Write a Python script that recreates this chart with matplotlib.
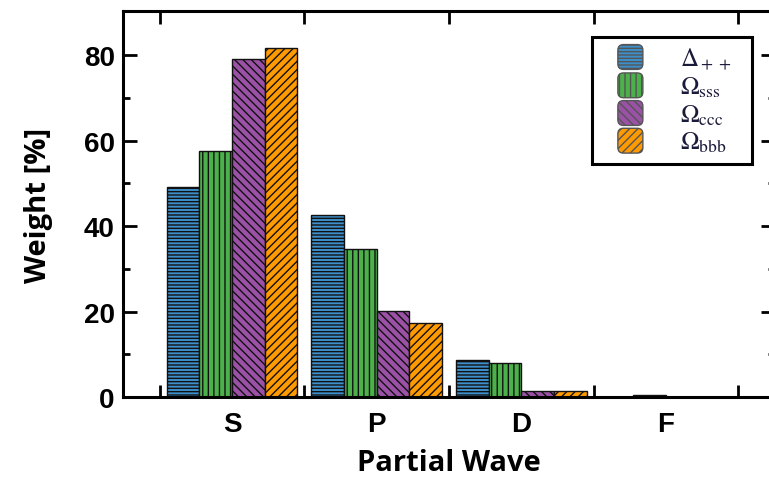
import matplotlib
matplotlib.use("Agg")
import matplotlib.pyplot as plt
import numpy as np
from matplotlib.patches import FancyBboxPatch, Rectangle
from matplotlib.legend_handler import HandlerPatch

categories = ["S", "P", "D", "F"]
series_names = [r"$\Delta_{\rm ++}$", r"$\Omega_{\rm sss}$", r"$\Omega_{\rm ccc}$", r"$\Omega_{\rm bbb}$"]
delta_pp = [49.2, 42.5, 8.7, 0.0]
omega_sss = [57.6, 34.6, 7.9, 0.4]
omega_ccc = [79.1, 20.2, 1.5, 0.0]
omega_bbb = [81.6, 17.3, 1.4, 0.0]
values = [delta_pp, omega_sss, omega_ccc, omega_bbb]
colors = ["#3d8fcb", "#4cb14a", "#9b51a6", "#ff9a00"]
hatches = ["-----", "|||", "\\\\\\\\", "////"]

plt.rcParams["mathtext.fontset"] = "stix"
plt.rcParams["hatch.linewidth"] = 1.0

fig = plt.figure(figsize=(7.69, 4.81), dpi=100)
ax = fig.add_axes([123/769, 83/481, 652/769, 386/481])

x = np.arange(len(categories))
width = 0.226
offsets = [-1.5, -0.5, 0.5, 1.5]
handles = []
for vals, c, h, off, name in zip(values, colors, hatches, offsets, series_names):
    b = ax.bar(x + off*width, vals, width, color=c, edgecolor="#111111",
               linewidth=1.0, hatch=h, label=name, zorder=2)
    handles.append(b)

ax.set_xlim(-0.755, 3.755)
ax.set_ylim(0, 90.3)

ax.set_xticks(x)
ax.set_xticklabels(categories)
ax.set_xticks(np.arange(-0.5, 4.0, 1.0), minor=True)
ax.tick_params(axis="x", which="major", length=0, pad=10)
ax.tick_params(axis="x", which="minor", direction="in", length=9, width=2,
               top=True, bottom=True)
ax.set_yticks([0, 20, 40, 60, 80])
ax.set_yticks([10, 30, 50, 70], minor=True)
ax.tick_params(axis="y", which="major", direction="in", length=10, width=2,
               left=True, right=True, pad=6)
ax.tick_params(axis="y", which="minor", direction="in", length=5, width=2,
               left=True, right=True)

for lab in ax.get_xticklabels() + ax.get_yticklabels():
    lab.set_fontfamily("Liberation Sans")
    lab.set_fontweight("bold")
    lab.set_fontsize(20)

for s in ax.spines.values():
    s.set_linewidth(2.2)

ax.set_xlabel("Partial Wave", fontfamily="Open Sans", fontweight="bold", fontsize=21, labelpad=8)
ax.set_ylabel("Weight [%]", fontfamily="Open Sans", fontweight="bold", fontsize=21, labelpad=22)


class RoundHandler(HandlerPatch):
    def create_artists(self, legend, orig_handle, xdescent, ydescent, width, height, fontsize, trans):
        p = FancyBboxPatch((-xdescent, -ydescent), width, height,
                           boxstyle="round,pad=0,rounding_size=4",
                           facecolor=orig_handle.get_facecolor(),
                           edgecolor="#555555", linewidth=1.0,
                           hatch=orig_handle.get_hatch(), transform=trans)
        return [p]


# legend frame
frame = Rectangle((0.719, 0.604), 0.965 - 0.719, 0.933 - 0.604, transform=ax.transAxes,
                  facecolor="white", edgecolor="black", linewidth=2.2, zorder=4)
ax.add_patch(frame)

leg_handles = [b.patches[0] for b in handles]
leg = ax.legend(leg_handles, series_names, loc="upper left",
                bbox_to_anchor=(0.759, 0.913), borderaxespad=0,
                prop={"size": 18}, frameon=False,
                handlelength=1.0, handleheight=1.15, handletextpad=1.48,
                labelspacing=0.06, borderpad=0,
                handler_map={matplotlib.patches.Rectangle: RoundHandler()})
leg.set_zorder(5)
for t in leg.get_texts():
    t.set_color("#1a1a3a")

fig.savefig("out.png", dpi=100)
